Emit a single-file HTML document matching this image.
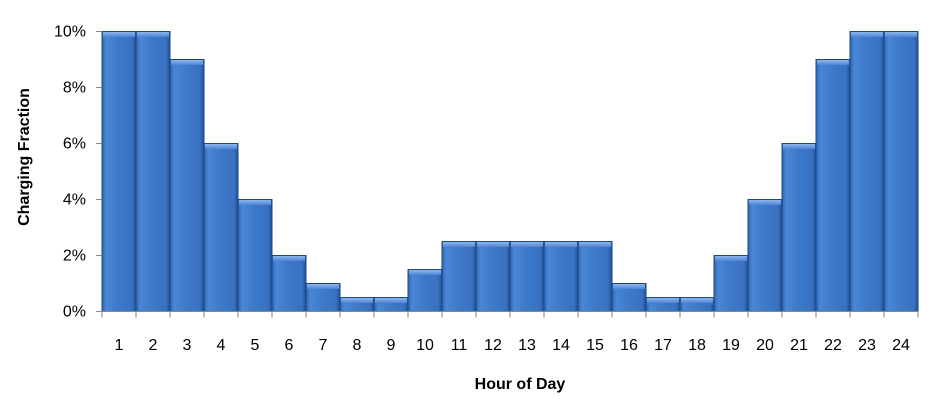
<!DOCTYPE html>
<html><head><meta charset="utf-8"><style>
body{margin:0;background:#fff;}
svg{display:block;font-family:"Liberation Sans",sans-serif;}
</style></head><body>
<svg id="chart" width="951" height="401">
<defs>
<linearGradient id="bg" x1="0" x2="1" y1="0" y2="0">
<stop offset="0" stop-color="#2f63b0"/><stop offset="0.12" stop-color="#4a86d6"/>
<stop offset="0.5" stop-color="#3d78c9"/><stop offset="0.88" stop-color="#3a72c2"/><stop offset="1" stop-color="#1f4f95"/>
</linearGradient>
<linearGradient id="tg" x1="0" x2="0" y1="0" y2="1">
<stop offset="0" stop-color="#8fb6ea"/><stop offset="1" stop-color="#4a86d6"/>
</linearGradient>
</defs>
<g id="bars"></g>
<g id="axes"></g>
<text x="520" y="389" text-anchor="middle" font-size="16" font-weight="bold" fill="#000">Hour of Day</text>
<text transform="translate(29,157) rotate(-90)" text-anchor="middle" font-size="16" font-weight="bold" fill="#000">Charging Fraction</text>
</svg>
<script>
const hours=[1,2,3,4,5,6,7,8,9,10,11,12,13,14,15,16,17,18,19,20,21,22,23,24];
const values=[10,10,9,6,4,2,1,0.5,0.5,1.5,2.5,2.5,2.5,2.5,2.5,1,0.5,0.5,2,4,6,9,10,10];
const yTicks=[0,2,4,6,8,10];
const ns="http://www.w3.org/2000/svg";
const x0=102,x1=918,yBase=311.5,yTop=31.5,yMax=10;
const bw=(x1-x0)/hours.length;
const xs=i=>x0+i*bw;
const ys=v=>yBase-(v/yMax)*(yBase-yTop);
function mk(tag,at,parent){const e=document.createElementNS(ns,tag);for(const k in at)e.setAttribute(k,at[k]);parent.appendChild(e);return e;}
const bars=document.getElementById('bars'),axes=document.getElementById('axes');
values.forEach((v,i)=>{
 const x=xs(i),y=ys(v),h=yBase-y;
 const r=mk('rect',{x:x,y:y,width:bw,height:h,fill:'url(#bg)',stroke:'#1d4785','stroke-width':1},bars);
 
 
 const t=mk('rect',{x:x+1,y:y+0.5,width:bw-2,height:Math.min(5,h-1),fill:'url(#tg)'},bars);
 
 
});
const ax=mk('line',{x1:x0,x2:x1,y1:yBase,y2:yBase,stroke:'#888','stroke-width':1},axes);


for(let i=0;i<=hours.length;i++){
 const tk=mk('line',{x1:xs(i),x2:xs(i),y1:yBase,y2:yBase+6,stroke:'#888'},axes);
 
 
}
hours.forEach((h,i)=>{
 const t=mk('text',{x:xs(i)+bw/2,y:350,'text-anchor':'middle','font-size':16,fill:'#000'},axes);
 t.textContent=h;
 
 
});
yTicks.forEach(v=>{
 const t=mk('text',{x:86,y:ys(v)+5,'text-anchor':'end','font-size':16,fill:'#000'},axes);
 t.textContent=v+'%';
 
 
 const l=mk('line',{x1:96,x2:x0,y1:ys(v),y2:ys(v),stroke:'#888'},axes);
 
 
});
</script>
</body></html>
